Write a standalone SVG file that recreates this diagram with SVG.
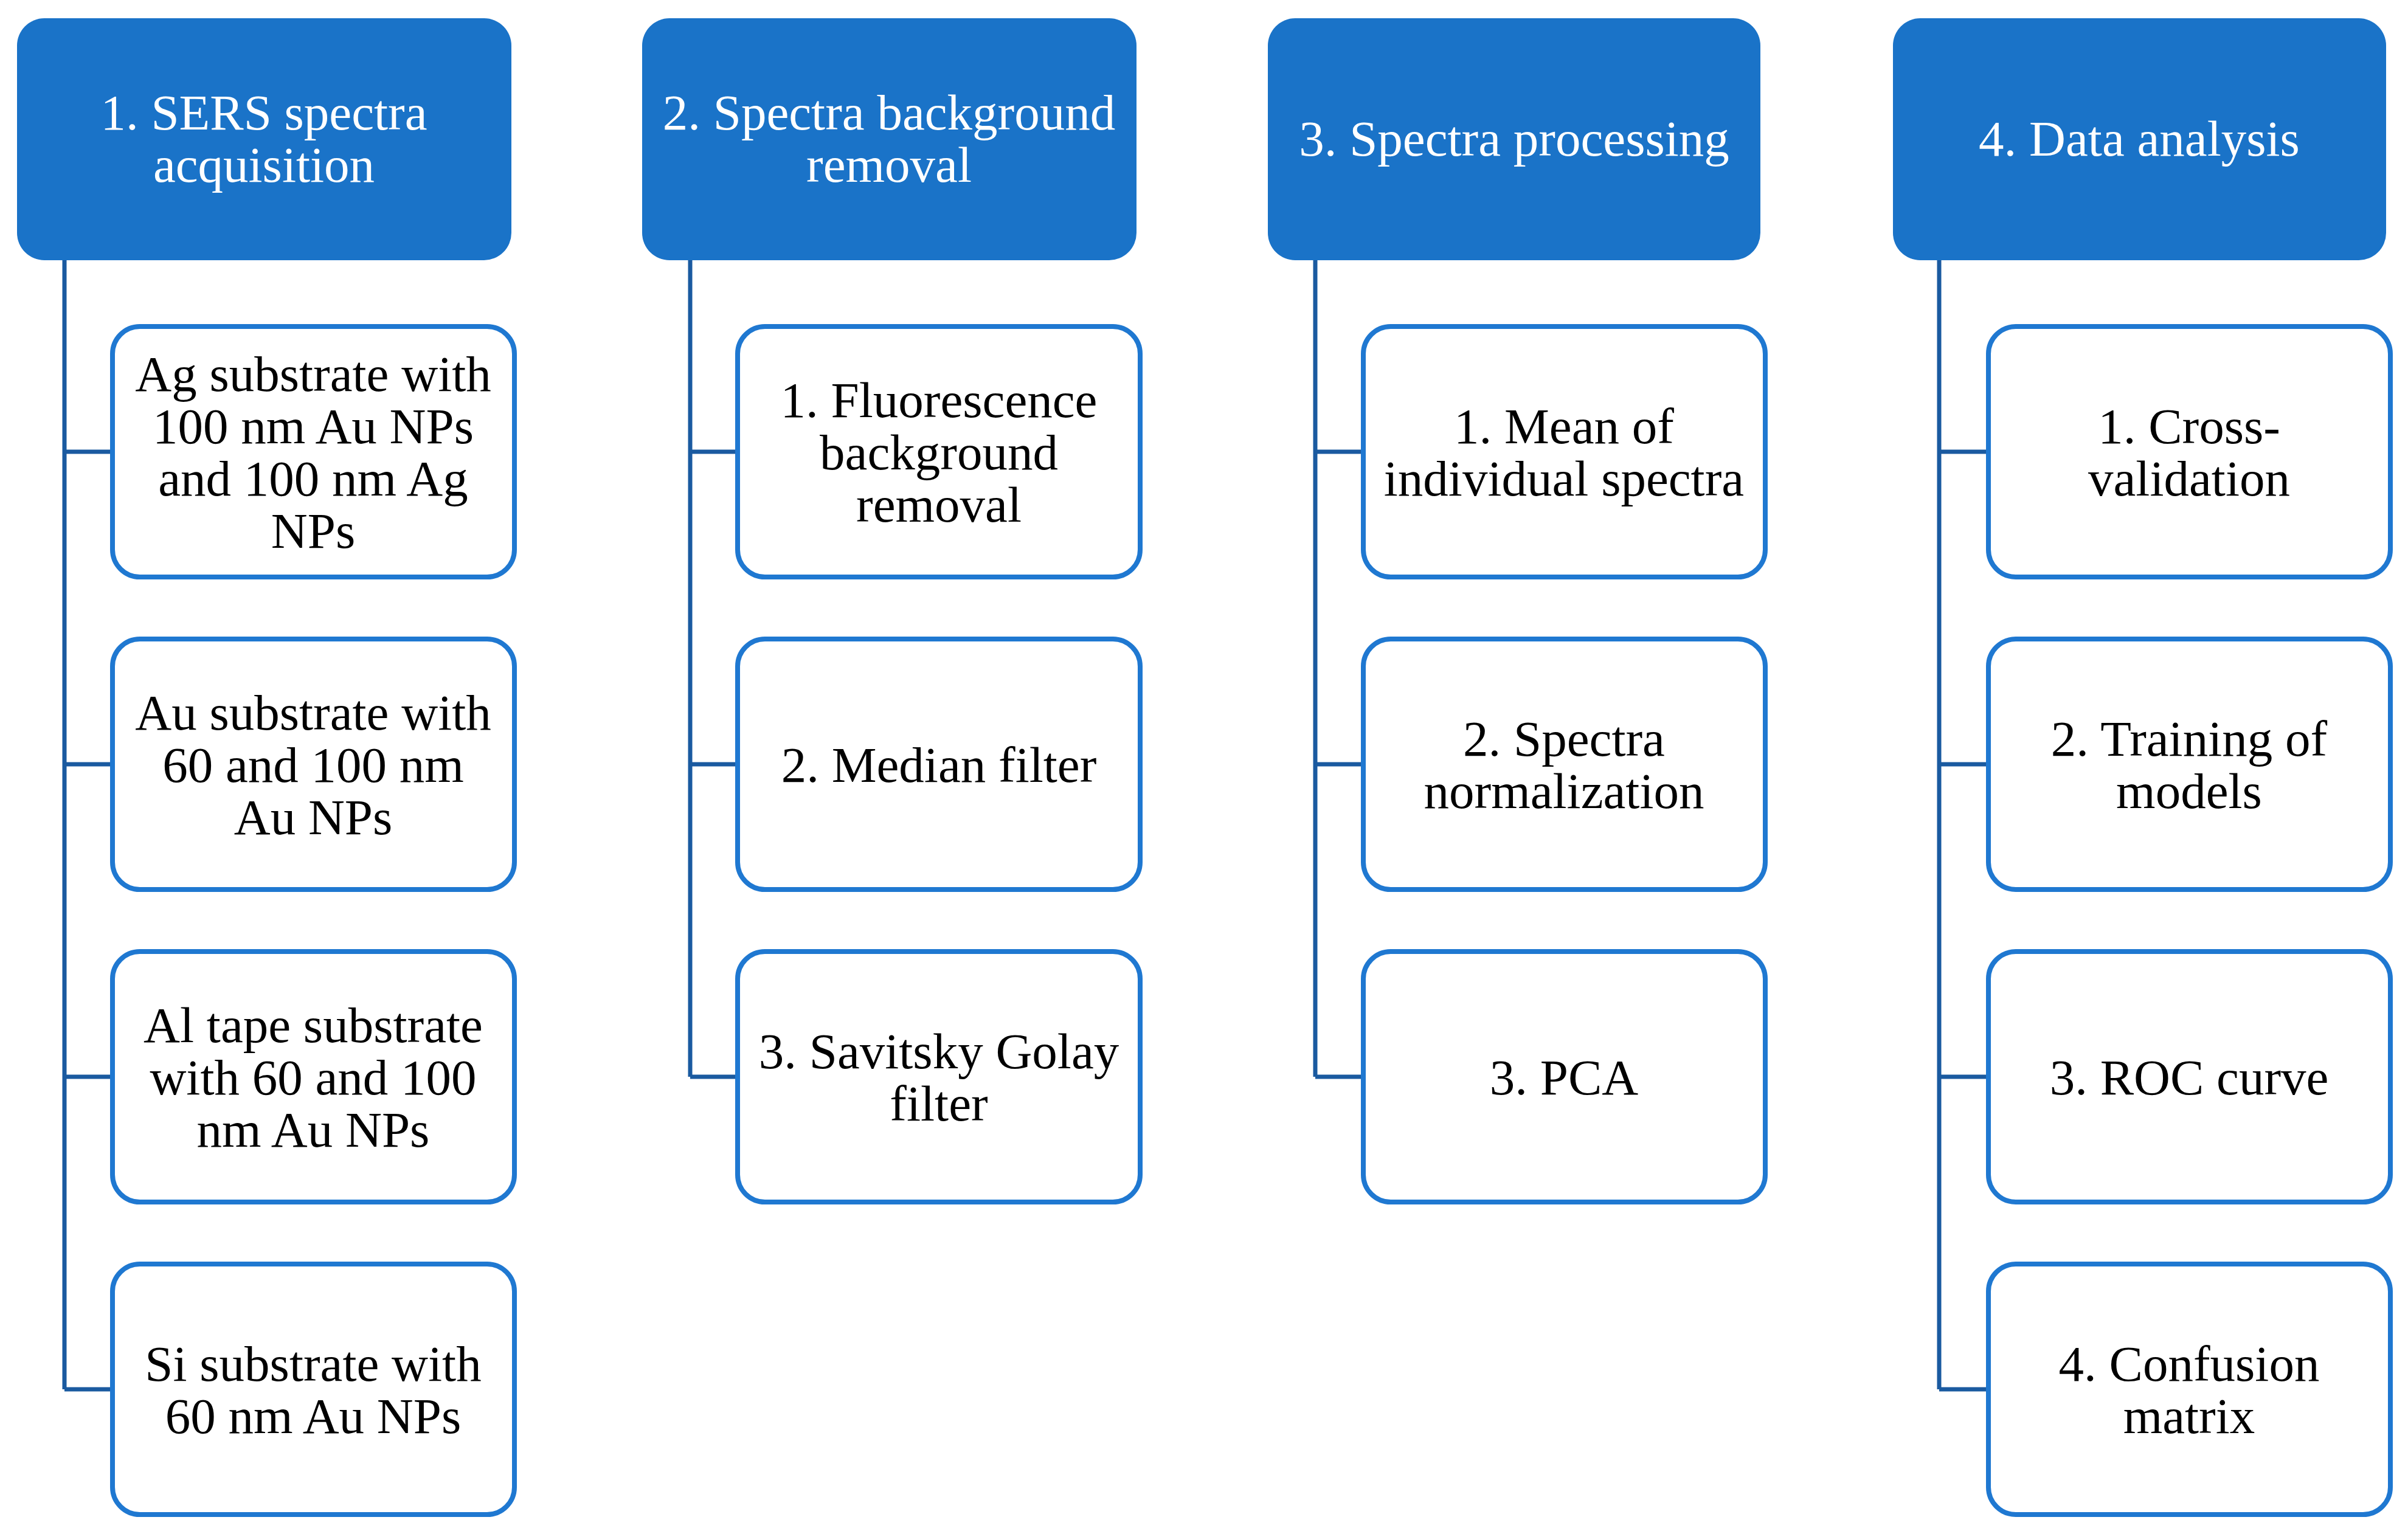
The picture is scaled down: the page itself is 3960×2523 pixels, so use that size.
<svg xmlns="http://www.w3.org/2000/svg" width="3960" height="2523" viewBox="0 0 3960 2523">
<style>
.h{fill:#1a73c8}
.b{fill:#fff;stroke:#1f78d1;stroke-width:8}
.c{stroke:#1a5aa0;stroke-width:7;fill:none}
text{font-family:"Liberation Serif","Times New Roman",serif;font-size:83px;text-anchor:middle}
.ht{fill:#fff}
.bt{fill:#000}
</style>
<rect width="3960" height="2523" fill="#fff"/>
<g id="connectors">
<path class="c" d="M106 428V2285M106 743H185M106 1257H185M106 1771H185M106 2285H185"/>
<path class="c" d="M1135 428V1771M1135 743H1213M1135 1257H1213M1135 1771H1213"/>
<path class="c" d="M2163 428V1771M2163 743H2242M2163 1257H2242M2163 1771H2242"/>
<path class="c" d="M3189 428V2285M3189 743H3270M3189 1257H3270M3189 1771H3270M3189 2285H3270"/>
</g>
<g id="h1"><rect class="h" x="28" y="30" width="813" height="398" rx="45"/><text class="ht" x="434" y="213">1. SERS spectra</text><text class="ht" x="434" y="299">acquisition</text></g>
<g id="h2"><rect class="h" x="1056" y="30" width="813" height="398" rx="45"/><text class="ht" x="1462" y="213">2. Spectra background</text><text class="ht" x="1462" y="299">removal</text></g>
<g id="h3"><rect class="h" x="2085" y="30" width="810" height="398" rx="45"/><text class="ht" x="2490" y="256">3. Spectra processing</text></g>
<g id="h4"><rect class="h" x="3113" y="30" width="811" height="398" rx="45"/><text class="ht" x="3518" y="256">4. Data analysis</text></g>

<g id="a1"><rect class="b" x="185" y="537" width="661" height="412" rx="45"/><text class="bt" x="515" y="643">Ag substrate with</text><text class="bt" x="515" y="729">100 nm Au NPs</text><text class="bt" x="515" y="815">and 100 nm Ag</text><text class="bt" x="515" y="901">NPs</text></g>
<g id="a2"><rect class="b" x="185" y="1051" width="661" height="412" rx="45"/><text class="bt" x="515" y="1200">Au substrate with</text><text class="bt" x="515" y="1286">60 and 100 nm</text><text class="bt" x="515" y="1372">Au NPs</text></g>
<g id="a3"><rect class="b" x="185" y="1565" width="661" height="412" rx="45"/><text class="bt" x="515" y="1714">Al tape substrate</text><text class="bt" x="515" y="1800">with 60 and 100</text><text class="bt" x="515" y="1886">nm Au NPs</text></g>
<g id="a4"><rect class="b" x="185" y="2079" width="661" height="412" rx="45"/><text class="bt" x="515" y="2271">Si substrate with</text><text class="bt" x="515" y="2357">60 nm Au NPs</text></g>

<g id="b1"><rect class="b" x="1213" y="537" width="662" height="412" rx="45"/><text class="bt" x="1544" y="686">1. Fluorescence</text><text class="bt" x="1544" y="772">background</text><text class="bt" x="1544" y="858">removal</text></g>
<g id="b2"><rect class="b" x="1213" y="1051" width="662" height="412" rx="45"/><text class="bt" x="1544" y="1286">2. Median filter</text></g>
<g id="b3"><rect class="b" x="1213" y="1565" width="662" height="412" rx="45"/><text class="bt" x="1544" y="1757">3. Savitsky Golay</text><text class="bt" x="1544" y="1843">filter</text></g>

<g id="c1"><rect class="b" x="2242" y="537" width="661" height="412" rx="45"/><text class="bt" x="2572" y="729">1. Mean of</text><text class="bt" x="2572" y="815">individual spectra</text></g>
<g id="c2"><rect class="b" x="2242" y="1051" width="661" height="412" rx="45"/><text class="bt" x="2572" y="1243">2. Spectra</text><text class="bt" x="2572" y="1329">normalization</text></g>
<g id="c3"><rect class="b" x="2242" y="1565" width="661" height="412" rx="45"/><text class="bt" x="2572" y="1800">3. PCA</text></g>

<g id="d1"><rect class="b" x="3270" y="537" width="661" height="412" rx="45"/><text class="bt" x="3600" y="729">1. Cross-</text><text class="bt" x="3600" y="815">validation</text></g>
<g id="d2"><rect class="b" x="3270" y="1051" width="661" height="412" rx="45"/><text class="bt" x="3600" y="1243">2. Training of</text><text class="bt" x="3600" y="1329">models</text></g>
<g id="d3"><rect class="b" x="3270" y="1565" width="661" height="412" rx="45"/><text class="bt" x="3600" y="1800">3. ROC curve</text></g>
<g id="d4"><rect class="b" x="3270" y="2079" width="661" height="412" rx="45"/><text class="bt" x="3600" y="2271">4. Confusion</text><text class="bt" x="3600" y="2357">matrix</text></g>
</svg>
